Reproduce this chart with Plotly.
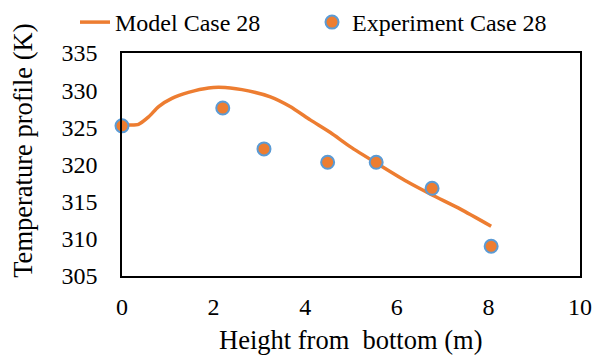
import plotly.graph_objects as go

# Model curve (height in m, temperature in K)
model_height = [0, 0.15, 0.36, 0.58, 0.80, 1.09, 1.45, 1.89, 2.25, 2.76, 3.24,
                3.67, 4.11, 4.55, 4.98, 5.55, 6.22, 6.77, 7.39, 8.06]
model_temp = [325.2, 325.3, 325.4, 326.4, 327.8, 328.9, 329.7, 330.3, 330.35, 329.9, 329.1,
              327.8, 326.0, 324.3, 322.4, 320.2, 317.7, 315.9, 314.0, 311.7]

# Measured points
exp_height = [0, 2.2, 3.1, 4.49, 5.55, 6.77, 8.06]
exp_temp = [325.2, 327.6, 322.1, 320.3, 320.3, 316.8, 309.0]

x_ticks = [0, 2, 4, 6, 8, 10]
y_ticks = [305, 310, 315, 320, 325, 330, 335]

ORANGE = "#ED7D31"
BLUE = "#5B9BD5"
FONT = "Liberation Serif, Times New Roman, serif"
LEGEND_FONT = dict(family=FONT, size=24, color="black")

fig = go.Figure()
fig.add_trace(go.Scatter(
    x=model_height, y=model_temp, mode="lines", name="Model Case 28",
    line=dict(color=ORANGE, width=3.5, shape="spline", smoothing=0.6),
    legend="legend",
))
fig.add_trace(go.Scatter(
    x=exp_height, y=exp_temp, mode="markers", name="Experiment Case 28",
    marker=dict(color=ORANGE, size=13, line=dict(color=BLUE, width=2)),
    cliponaxis=False, legend="legend2",
))

axis_common = dict(
    showgrid=False, zeroline=False, showline=True, mirror=True,
    linecolor="black", linewidth=1.5, ticks="",
    tickfont=dict(family=FONT, size=24, color="black"),
)

legend_common = dict(
    orientation="h", xref="container", xanchor="left",
    yref="container", y=1, yanchor="top",
    font=LEGEND_FONT, itemwidth=30, bgcolor="rgba(0,0,0,0)",
)

fig.update_layout(
    width=592, height=358,
    margin=dict(l=122, r=12, t=53, b=82, autoexpand=False),
    paper_bgcolor="white", plot_bgcolor="white",
    font=dict(family=FONT, color="black"),
    showlegend=True,
    legend=dict(x=75 / 592, **legend_common),
    legend2=dict(x=312 / 592, **legend_common),
    xaxis=dict(range=[0, 10], tickvals=x_ticks, ticklabelstandoff=8, **axis_common),
    yaxis=dict(range=[305, 335], tickvals=y_ticks, ticklabelstandoff=18, **axis_common),
    annotations=[
        dict(text="Height from\u00a0 bottom (m)", xref="paper", yref="paper",
             x=0.5, y=0, xanchor="center", yanchor="middle", yshift=-64,
             showarrow=False, font=dict(family=FONT, size=26.5, color="black")),
        dict(text="Temperature profile (K)", xref="paper", yref="paper",
             x=0, y=(275.5 - 150.5) / 222.5, xanchor="center", yanchor="middle",
             xshift=-99, textangle=-90,
             showarrow=False, font=dict(family=FONT, size=26.5, color="black")),
    ],
)

fig.write_html("out.html")
